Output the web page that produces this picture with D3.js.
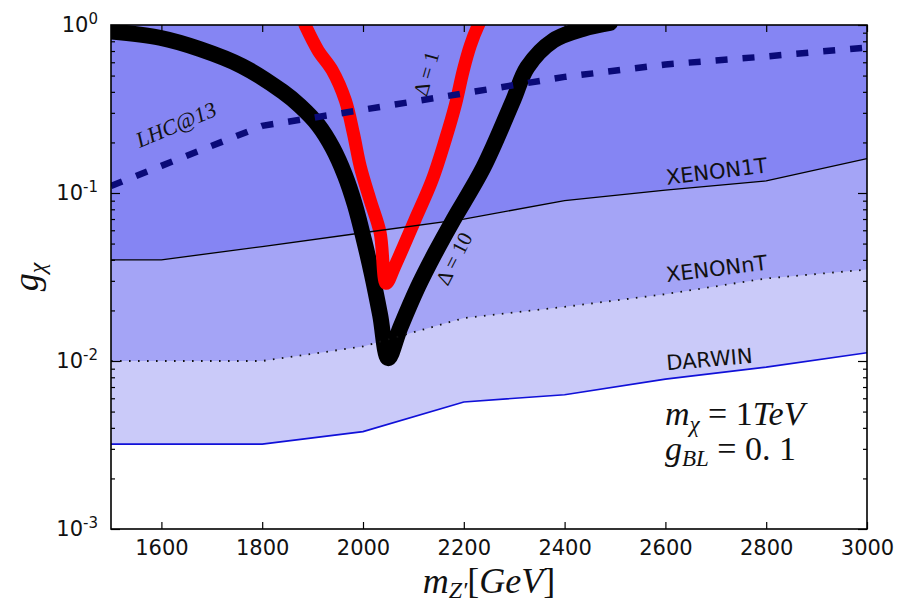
<!DOCTYPE html>
<html>
<head>
<meta charset="utf-8">
<title>g_chi vs m_Z'</title>
<script src="https://cdn.jsdelivr.net/npm/d3@7"></script>
<style>
  body { margin: 0; background: #fff; }
  text { font-family: "DejaVu Sans", sans-serif; fill: #111; }
  .math { font-family: "Liberation Serif", serif; }
  .it { font-style: italic; }
</style>
</head>
<body>
<script>
// direct detection / collider limits, read every 200 GeV
var mass    = [1500, 1600, 1800, 2000, 2200, 2400, 2600, 2800, 3000];
var xenon1T = [0.040, 0.040, 0.048, 0.058, 0.070, 0.090, 0.104, 0.118, 0.160];
var xenonNT = [0.010, 0.010, 0.010, 0.0122, 0.018, 0.021, 0.025, 0.031, 0.035];
var darwin  = [0.0032, 0.0032, 0.0032, 0.0038, 0.0057, 0.0063, 0.0078, 0.0092, 0.0112];
var lhc13   = [0.110, 0.145, 0.251, 0.313, 0.392, 0.491, 0.582, 0.650, 0.735];

// Delta = 10 contour (black)
var delta10Mass = [1500, 1597, 1676, 1760, 1841, 1875, 1911, 1940, 1964, 1984, 2002, 2018, 2034, 2050,
                   2074, 2109, 2143, 2179, 2239, 2298, 2326, 2378, 2437, 2490];
var delta10G    = [0.915, 0.84, 0.72, 0.57, 0.40, 0.330, 0.254, 0.185, 0.128, 0.0849, 0.0525, 0.0325, 0.0188, 0.0104,
                   0.0158, 0.0276, 0.0439, 0.069, 0.142, 0.356, 0.56, 0.81, 0.95, 1.03];

// Delta = 1 contour (red)
var delta1Mass = [1885, 1911, 1939, 1965, 1981, 1995, 2014, 2034, 2046,
                  2064, 2103, 2137, 2163, 2183, 2199, 2213, 2229, 2240];
var delta1G    = [1.0, 0.705, 0.537, 0.356, 0.226, 0.142, 0.091, 0.058, 0.029,
                  0.0372, 0.069, 0.119, 0.206, 0.332, 0.537, 0.755, 1.0, 1.15];

var xTicks = [1600, 1800, 2000, 2200, 2400, 2600, 2800, 3000];
var yTicks = [1e-3, 1e-2, 1e-1, 1];

var margin = {top: 25, right: 33, bottom: 76, left: 111},
    width = 900 - margin.left - margin.right,
    height = 605 - margin.top - margin.bottom;

var svg = d3.select("body").append("svg")
    .attr("width", 900)
    .attr("height", 605);

var g = svg.append("g")
    .attr("transform", "translate(" + margin.left + "," + margin.top + ")");

var x = d3.scaleLinear().domain([1500, 3000]).range([0, width]);
var y = d3.scaleLog().domain([1e-3, 1]).range([height, 0]);

g.append("clipPath").attr("id", "plot-clip")
  .append("rect").attr("width", width).attr("height", height);

var plot = g.append("g").attr("clip-path", "url(#plot-clip)");

// stacked exclusion bands
var band = d3.area()
    .x(function(d, i) { return x(mass[i]); })
    .y0(0)
    .y1(function(d) { return y(d); });

plot.append("path").datum(darwin).attr("d", band).attr("fill", "#cacaf9");
plot.append("path").datum(xenonNT).attr("d", band).attr("fill", "#a4a4f6");
plot.append("path").datum(xenon1T).attr("d", band).attr("fill", "#8585f3");

var limitLine = d3.line()
    .x(function(d, i) { return x(mass[i]); })
    .y(function(d) { return y(d); });

var contour = d3.line()
    .x(function(d) { return x(d[0]); })
    .y(function(d) { return y(d[1]); })
    .curve(d3.curveCatmullRom.alpha(0.5));

plot.append("path").datum(d3.zip(delta10Mass, delta10G))
    .attr("d", contour)
    .attr("fill", "none").attr("stroke", "#000").attr("stroke-width", 16)
    .attr("stroke-linecap", "round").attr("stroke-linejoin", "round");

plot.append("path").datum(d3.zip(delta1Mass, delta1G))
    .attr("d", contour)
    .attr("fill", "none").attr("stroke", "#f00").attr("stroke-width", 13)
    .attr("stroke-linecap", "round").attr("stroke-linejoin", "round");

plot.append("path").datum(xenon1T).attr("d", limitLine)
    .attr("fill", "none").attr("stroke", "#000").attr("stroke-width", 1.3);

plot.append("path").datum(xenonNT).attr("d", limitLine)
    .attr("fill", "none").attr("stroke", "#111").attr("stroke-width", 1.8)
    .attr("stroke-dasharray", "1.6,7.4");

plot.append("path").datum(darwin).attr("d", limitLine)
    .attr("fill", "none").attr("stroke", "#1010d8").attr("stroke-width", 1.6);

plot.append("path").datum(lhc13).attr("d", limitLine)
    .attr("fill", "none").attr("stroke", "#0a0a78").attr("stroke-width", 6.5)
    .attr("stroke-dasharray", "12,15");

// axes
var minorTicks = [];
for (var k = -3; k < 0; k++) {
  for (var j = 2; j <= 9; j++) minorTicks.push(j * Math.pow(10, k));
}

function styleAxis(sel) {
  sel.select(".domain").remove();
  sel.selectAll("line").attr("stroke", "#000").attr("stroke-width", 1.2);
  sel.selectAll("text").style("font-size", "21px").attr("fill", "#111");
}

g.append("g")
    .attr("transform", "translate(0," + height + ")")
    .call(d3.axisBottom(x).tickValues(xTicks).tickSizeInner(-7).tickSizeOuter(0)
      .tickPadding(11).tickFormat(d3.format("d")))
    .call(styleAxis)
    .selectAll("text").attr("font-family", "DejaVu Sans");

g.append("g")
    .call(d3.axisTop(x).tickValues(xTicks).tickSizeInner(-7).tickSizeOuter(0).tickFormat(""))
    .call(styleAxis);

var yLeft = g.append("g")
    .call(d3.axisLeft(y).tickValues(yTicks).tickSizeInner(-9).tickSizeOuter(0)
      .tickPadding(13).tickFormat(""))
    .call(styleAxis);

yLeft.selectAll(".tick text").each(function(d) {
  var t = d3.select(this);
  t.append("tspan").text("10");
  t.append("tspan").attr("dy", "-8").style("font-size", "15px")
    .text(Math.round(Math.log10(d)));
});

g.append("g")
    .call(d3.axisLeft(y).tickValues(minorTicks).tickSizeInner(-4).tickSizeOuter(0).tickFormat(""))
    .call(styleAxis);

g.append("g")
    .attr("transform", "translate(" + width + ",0)")
    .call(d3.axisRight(y).tickValues(yTicks).tickSizeInner(-9).tickSizeOuter(0).tickFormat(""))
    .call(styleAxis);

g.append("g")
    .attr("transform", "translate(" + width + ",0)")
    .call(d3.axisRight(y).tickValues(minorTicks).tickSizeInner(-4).tickSizeOuter(0).tickFormat(""))
    .call(styleAxis);

g.append("rect")
    .attr("width", width).attr("height", height)
    .attr("fill", "none").attr("stroke", "#000").attr("stroke-width", 1.6);

// curve labels
function label(m, v, angle) {
  return g.append("text")
    .attr("transform", "translate(" + x(m) + "," + y(v) + ") rotate(" + angle + ")");
}

label(2603, 0.112, -7).style("font-size", "21px").text("XENON1T");
label(2603, 0.0295, -7).style("font-size", "21px").text("XENONnT");
label(2603, 0.0088, -5).style("font-size", "21px").text("DARWIN");

label(1557, 0.185, -23).attr("class", "math it").style("font-size", "22px")
    .attr("fill", "#1a1a6a").text("LHC@13");

label(2139, 0.50, -74).attr("class", "math").style("font-size", "21px")
    .attr("text-anchor", "middle").attr("fill", "#1a1a4a").text("Δ = 1");

label(2193, 0.0389, -63).attr("class", "math").style("font-size", "21px")
    .attr("text-anchor", "middle").attr("fill", "#1a1a4a").text("Δ = 10");

// benchmark parameters
var p1 = label(2599, 0.00417, 0).attr("class", "math").style("font-size", "34px");
p1.append("tspan").attr("class", "it").text("m");
p1.append("tspan").attr("class", "it").attr("dy", 7).style("font-size", "23px").text("χ");
p1.append("tspan").attr("dy", -7).text(" = 1");
p1.append("tspan").attr("class", "it").text("TeV");

var p2 = label(2599, 0.00258, 0).attr("class", "math").style("font-size", "34px");
p2.append("tspan").attr("class", "it").text("g");
p2.append("tspan").attr("class", "it").attr("dy", 6).style("font-size", "23px").text("BL");
p2.append("tspan").attr("dy", -6).text(" = 0. 1");

// axis titles
var xt = g.append("text").attr("class", "math")
    .attr("x", width / 2).attr("y", height + 64)
    .attr("text-anchor", "middle").style("font-size", "36px");
xt.append("tspan").attr("class", "it").text("m");
xt.append("tspan").attr("class", "it").attr("dy", 5).style("font-size", "24px").text("Z′");
xt.append("tspan").attr("dy", -5).text("[");
xt.append("tspan").attr("class", "it").text("GeV");
xt.append("tspan").text("]");

var yt = g.append("text").attr("class", "math")
    .attr("transform", "translate(-73," + (height / 2) + ") rotate(-90)")
    .attr("text-anchor", "middle").style("font-size", "36px");
yt.append("tspan").attr("class", "it").text("g");
yt.append("tspan").attr("class", "it").attr("dy", 7).style("font-size", "24px").text("χ");
</script>
</body>
</html>
